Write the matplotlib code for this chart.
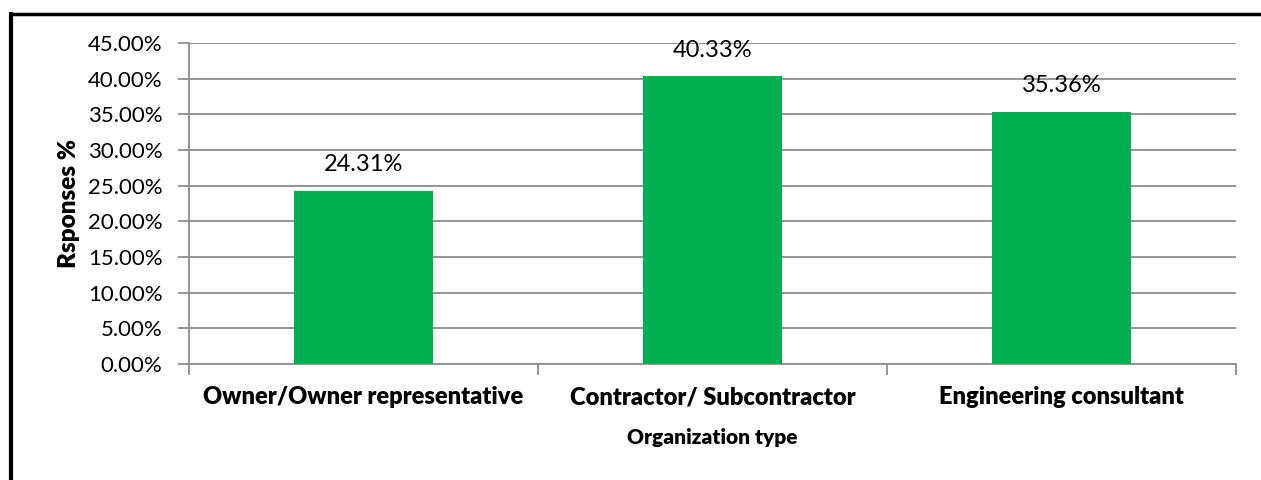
import numpy as np
import matplotlib.pyplot as plt
from matplotlib.lines import Line2D
from matplotlib.ticker import FuncFormatter, MultipleLocator

categories = ["Owner/Owner representative", "Contractor/ Subcontractor", "Engineering consultant"]
responses = [24.31, 40.33, 35.36]

plt.rcParams["font.family"] = ["Lato", "DejaVu Sans"]

fig = plt.figure(figsize=(12.61, 4.8), dpi=100)
ax = fig.add_axes([189 / 1261, 1 - 364 / 480, (1236 - 189) / 1261, (364 - 43) / 480])

x = np.arange(len(categories))
bars = ax.bar(x, responses, width=0.4, color="#00B050", zorder=3)
for rect, v in zip(bars, responses):
    ax.annotate(f"{v:.2f}%", (rect.get_x() + rect.get_width() / 2, v),
                xytext=(0, 11), textcoords="offset points",
                ha="center", va="bottom", fontsize=17)

ax.set_xlim(-0.5, len(categories) - 0.5)
ax.set_ylim(0, 45)
ax.yaxis.set_major_locator(MultipleLocator(5))
ax.yaxis.set_major_formatter(FuncFormatter(lambda v, p: f"{v:.2f}%"))
ax.grid(axis="y", color="#8c8c8c", linewidth=1.3, zorder=0)

for s in ["top", "right"]:
    ax.spines[s].set_visible(False)
for s in ["left", "bottom"]:
    ax.spines[s].set_color("#8c8c8c")
    ax.spines[s].set_linewidth(1.3)

ax.set_xticks(x)
ax.set_xticklabels(categories, fontsize=17, fontweight="heavy")
ax.tick_params(axis="x", length=0, pad=16)
ax.set_xticks(np.arange(-0.5, len(categories)), minor=True)
ax.tick_params(axis="x", which="minor", length=8, color="#8c8c8c", width=1.3)
ax.tick_params(axis="y", length=8, color="#8c8c8c", width=1.3, labelsize=16, pad=11)

ax.set_ylabel("Rsponses %", fontsize=17.5, fontweight="heavy", labelpad=6)
ax.set_xlabel("Organization type", fontsize=15, fontweight="heavy", labelpad=14)

# frame lines around the chart area (top and left visible)
fig.add_artist(Line2D([10.5 / 1261, 1], [1 - 14 / 480, 1 - 14 / 480],
                      transform=fig.transFigure, color="black", linewidth=2.5))
fig.add_artist(Line2D([10.5 / 1261, 10.5 / 1261], [0, 1 - 14 / 480],
                      transform=fig.transFigure, color="black", linewidth=3))

fig.savefig("out.png", dpi=100)
